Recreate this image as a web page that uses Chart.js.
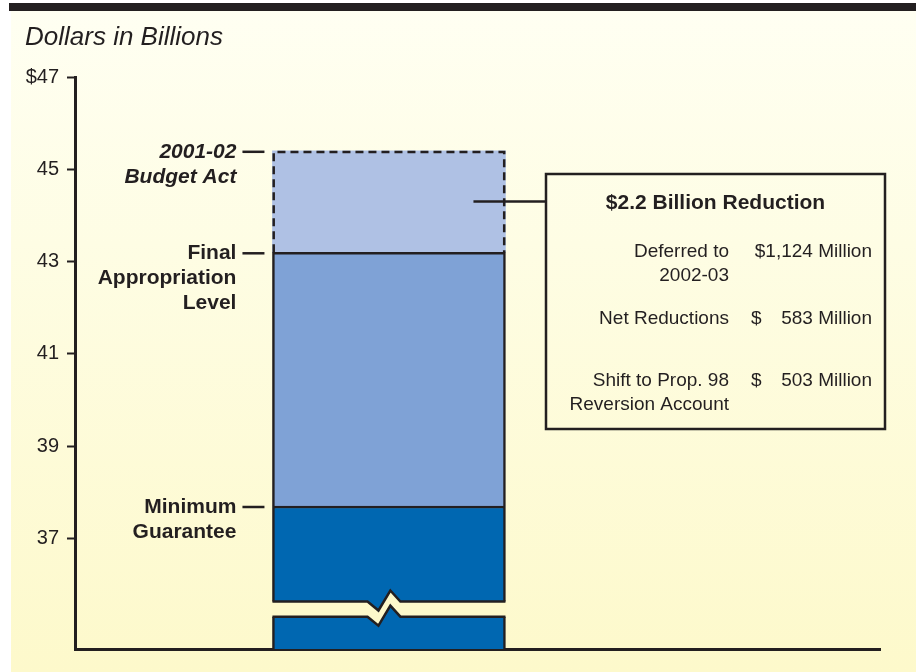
<!DOCTYPE html>
<html>
<head>
<meta charset="utf-8">
<script src="https://cdn.jsdelivr.net/npm/chart.js@4/dist/chart.umd.min.js"></script>
<style>
  html, body { margin: 0; padding: 0; background: #fff; }
  #page { position: relative; width: 916px; height: 672px; overflow: hidden; }
  #bg { position: absolute; left: 11px; top: 11px; right: 0; bottom: 0;
        background: linear-gradient(to bottom, #fffff2 0%, #fefde4 35%, #fdf9cb 100%); }
  #topbar { position: absolute; left: 9px; top: 3px; right: 0; height: 8px; background: #231f20; }
  canvas { position: absolute; left: 0; top: 0; }
</style>
</head>
<body>
<div id="page">
  <div id="bg"></div>
  <div id="topbar"></div>
  <canvas id="prop98Chart" width="916" height="672"></canvas>
</div>
<script>
// Funding levels, $ billions
const levelNames = [['Minimum', 'Guarantee'], ['Final', 'Appropriation', 'Level'], ['2001-02', 'Budget Act']];
const levelValues = [37.7, 43.2, 45.4];
const levelColors = ['#0067b1', '#7fa2d6', '#afc1e4'];

// Reduction breakdown, $ millions
const reductionLabels = [['Deferred to', '2002-03'], ['Net Reductions'], ['Shift to Prop. 98', 'Reversion Account']];
const reductionAmounts = [1124, 583, 503];

const yTicks = [37, 39, 41, 43, 45, 47];
const yMin = 34.6;
const yMax = 47;
const axisBreak = [35.3, 35.63];
const barSlot = 0.39;

const ink = '#231f20';
const fontFamily = '"Liberation Sans", Arial, Helvetica, sans-serif';

function lowerBound(i) {
  return i === 0 ? yMin : levelValues[i - 1];
}

const datasets = levelValues.map((v, i) => ({
  label: levelNames[i].join(' '),
  data: [{ x: barSlot, y: [lowerBound(i), v] }],
  backgroundColor: levelColors[i],
  borderColor: ink,
  borderWidth: i === 2 ? 0 : 2.5,
  borderSkipped: 'start',
  barThickness: 233,
  grouped: false
}));

// Dashed outline on the Budget Act segment, axis break, side labels and reduction box
const annotations = {
  id: 'annotations',
  afterDatasetsDraw(chart) {
    const { ctx, scales: { y } } = chart;
    const top = chart.getDatasetMeta(2).data[0];
    const base = chart.getDatasetMeta(0).data[0];
    const left = top.x - top.width / 2;
    const right = top.x + top.width / 2;

    ctx.save();

    // dashed border of the top segment
    ctx.strokeStyle = ink;
    ctx.lineWidth = 2.5;
    ctx.setLineDash([8, 5]);
    ctx.beginPath();
    ctx.moveTo(left + 1.25, top.base);
    ctx.lineTo(left + 1.25, top.y + 1.25);
    ctx.lineTo(right - 1.25, top.y + 1.25);
    ctx.lineTo(right - 1.25, top.base);
    ctx.stroke();
    ctx.setLineDash([]);

    // zigzag axis break through the base segment
    const w = base.width;
    const bl = base.x - w / 2;
    const br = base.x + w / 2;
    const yHi = y.getPixelForValue(axisBreak[1]);
    const yLo = y.getPixelForValue(axisBreak[0]);
    const zig = (yy) => [
      [bl - 1, yy], [bl + w * 0.408, yy], [bl + w * 0.455, yy + 9],
      [bl + w * 0.506, yy - 11], [bl + w * 0.549, yy], [br + 1, yy]
    ];
    const upper = zig(yHi);
    const lower = zig(yLo);
    ctx.fillStyle = '#fdf9cb';
    ctx.beginPath();
    upper.forEach(([px, py], k) => (k ? ctx.lineTo(px, py) : ctx.moveTo(px, py)));
    lower.slice().reverse().forEach(([px, py]) => ctx.lineTo(px, py));
    ctx.closePath();
    ctx.fill();
    ctx.lineJoin = 'miter';
    [upper, lower].forEach(line => {
      ctx.beginPath();
      line.forEach(([px, py], k) => (k ? ctx.lineTo(Math.min(Math.max(px, bl), br), py) : ctx.moveTo(bl, py)));
      ctx.stroke();
    });

    // labels left of the bar
    ctx.fillStyle = ink;
    ctx.textAlign = 'right';
    ctx.textBaseline = 'middle';
    levelValues.forEach((v, i) => {
      const py = y.getPixelForValue(v);
      ctx.beginPath();
      ctx.moveTo(left - 30, py + 1);
      ctx.lineTo(left - 8, py + 1);
      ctx.stroke();
      ctx.font = (i === 2 ? 'italic ' : '') + 'bold 21px ' + fontFamily;
      levelNames[i].forEach((line, k) => ctx.fillText(line, left - 36, py + 1 + k * 25));
    });

    // reduction box
    const box = { l: 546, t: 174, r: 885, b: 429 };
    const midY = y.getPixelForValue((levelValues[1] + levelValues[2]) / 2);
    ctx.beginPath();
    ctx.moveTo(right - 32, midY);
    ctx.lineTo(box.l, midY);
    ctx.stroke();
    ctx.strokeRect(box.l, box.t, box.r - box.l, box.b - box.t);

    const total = reductionAmounts.reduce((a, b) => a + b, 0) / 1000;
    ctx.textBaseline = 'alphabetic';
    ctx.textAlign = 'center';
    ctx.font = 'bold 21px ' + fontFamily;
    ctx.fillText('$' + total.toFixed(1) + ' Billion Reduction', (box.l + box.r) / 2, 209);

    ctx.font = '19px ' + fontFamily;
    const rowBase = [257, 324, 386];
    reductionLabels.forEach((lines, i) => {
      ctx.textAlign = 'right';
      lines.forEach((line, k) => ctx.fillText(line, 729, rowBase[i] + k * 24));
      const amt = reductionAmounts[i].toLocaleString('en-US') + ' Million';
      if (i === 0) {
        ctx.fillText('$' + amt, 872, rowBase[i]);
      } else {
        ctx.fillText(amt, 872, rowBase[i]);
        ctx.textAlign = 'left';
        ctx.fillText('$', 751, rowBase[i]);
      }
    });

    // axis caption
    ctx.textAlign = 'left';
    ctx.font = 'italic 26px ' + fontFamily;
    ctx.fillText('Dollars in Billions', 25, 45);

    ctx.restore();
  }
};

const ctx = document.getElementById('prop98Chart').getContext('2d');

new Chart(ctx, {
  type: 'bar',
  data: { datasets },
  options: {
    responsive: false,
    animation: false,
    devicePixelRatio: 1,
    layout: { padding: { left: 0, right: 36, top: 77, bottom: 23 } },
    plugins: {
      legend: { display: false },
      tooltip: { enabled: false }
    },
    scales: {
      x: {
        type: 'linear',
        min: 0,
        max: 1,
        offset: false,
        ticks: { display: false },
        grid: { display: false },
        border: { display: true, color: ink, width: 3 },
        afterFit: scale => { scale.height = 0; }
      },
      y: {
        min: yMin,
        max: yMax,
        afterBuildTicks: scale => { scale.ticks = yTicks.map(v => ({ value: v })); },
        ticks: {
          color: ink,
          padding: 8,
          font: { family: fontFamily, size: 20 },
          callback: v => (v === yMax ? '$' + v : String(v))
        },
        grid: {
          drawOnChartArea: false,
          drawTicks: true,
          tickLength: 8,
          tickWidth: 2,
          tickColor: ink
        },
        border: { display: true, color: ink, width: 3 },
        afterFit: scale => { scale.width = 75; }
      }
    }
  },
  plugins: [annotations]
});
</script>
</body>
</html>
